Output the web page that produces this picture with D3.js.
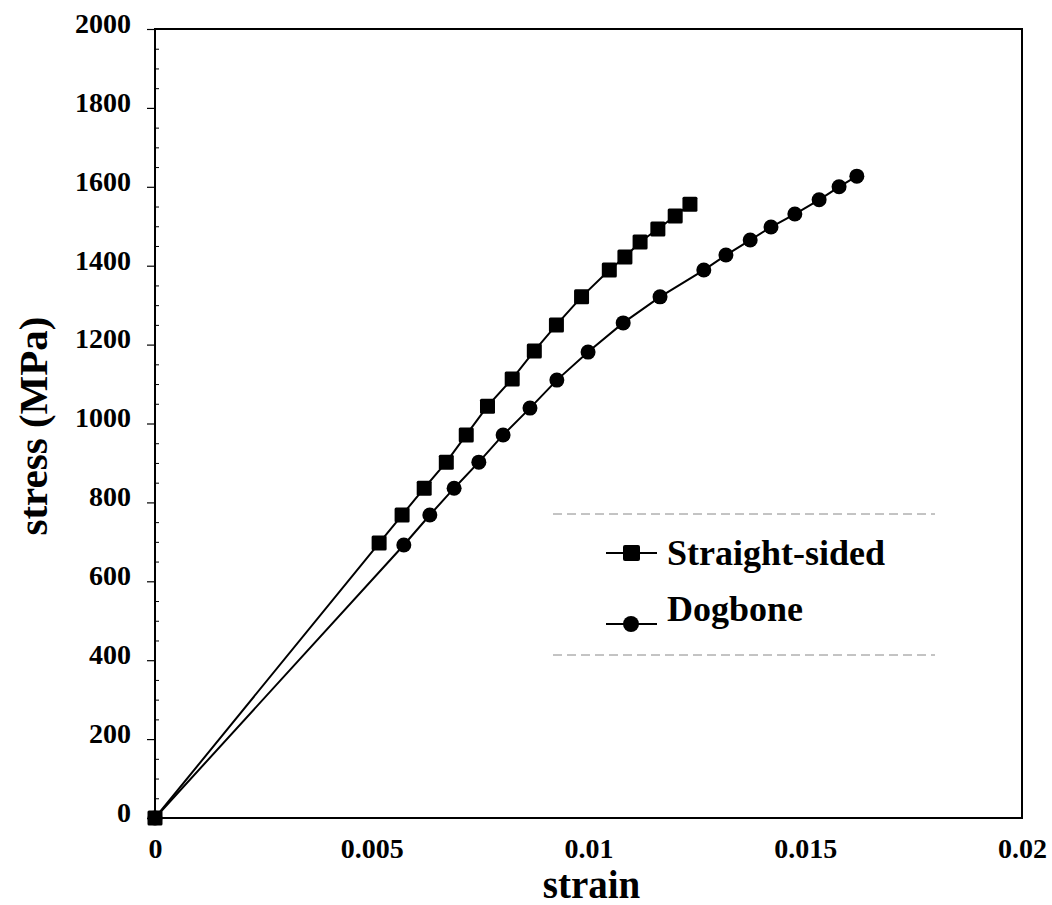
<!DOCTYPE html>
<html>
<head>
<meta charset="utf-8">
<script src="https://cdn.jsdelivr.net/npm/d3@7/dist/d3.min.js"></script>
<style>
  html, body { margin: 0; padding: 0; background: #fff; }
  svg { display: block; }
  text { font-family: "Liberation Serif", "Times New Roman", serif; font-weight: bold; fill: #000; }
</style>
</head>
<body>
<svg id="chart" width="1052" height="905"></svg>
<script>
// ---- data ----
const straightStrain = [0, 0.00517, 0.0057, 0.00621, 0.00672, 0.00718, 0.00767, 0.00824, 0.00875, 0.00926, 0.00984, 0.01048, 0.01084, 0.01119, 0.0116, 0.012, 0.01234];
const straightStress = [0, 697, 768, 836, 902, 971, 1044, 1113, 1184, 1250, 1321, 1389, 1422, 1460, 1493, 1526, 1556];
const dogboneStrain = [0, 0.00574, 0.00634, 0.0069, 0.00747, 0.00803, 0.00865, 0.00927, 0.00999, 0.0108, 0.01165, 0.01266, 0.01317, 0.01373, 0.01421, 0.01476, 0.01532, 0.01578, 0.01619];
const dogboneStress = [0, 692, 768, 836, 902, 971, 1039, 1110, 1181, 1255, 1321, 1389, 1427, 1465, 1498, 1531, 1567, 1600, 1627];
const xTicks = [0, 0.005, 0.01, 0.015, 0.02];
const xTickLabels = ["0", "0.005", "0.01", "0.015", "0.02"];
const yTicks = [0, 200, 400, 600, 800, 1000, 1200, 1400, 1600, 1800, 2000];
const seriesNames = ["Straight-sided", "Dogbone"];

const svg = d3.select("#chart");
const L = 155, R = 1022, T = 29, B = 818;

const x = d3.scaleLinear().domain([0, 0.02]).range([L, R]);
const y = d3.scaleLinear().domain([0, 2000]).range([B, T]);

// frame
svg.append("rect").attr("x", L).attr("y", T).attr("width", R - L).attr("height", B - T)
  .attr("fill", "none").attr("stroke", "#000").attr("stroke-width", 2);

// y minor ticks (inside)
const yMinor = d3.range(0, 2001, 50).filter(v => v % 200 !== 0);
svg.append("g").attr("transform", `translate(${L},0)`)
  .call(d3.axisRight(y).tickValues(yMinor).tickSize(4).tickFormat(""))
  .call(g => g.select(".domain").remove())
  .call(g => g.selectAll("line").attr("stroke", "#000").attr("stroke-width", 1));

// y major ticks + labels
svg.append("g").attr("transform", `translate(${L},0)`)
  .call(d3.axisLeft(y).tickValues(yTicks).tickSize(8).tickPadding(16).tickFormat(d3.format("d")))
  .call(g => g.select(".domain").remove())
  .call(g => g.selectAll("line").attr("stroke", "#000").attr("stroke-width", 1.2))
  .call(g => g.selectAll("text").attr("font-size", 28).attr("dy", "0.12em")
      .style("font-family", '"Liberation Serif", serif').style("font-weight", "bold"));

// x labels
svg.append("g").attr("transform", `translate(0,${B})`)
  .call(d3.axisBottom(x).tickValues(xTicks).tickSize(0).tickPadding(20)
      .tickFormat((d, i) => xTickLabels[i]))
  .call(g => g.select(".domain").remove())
  .call(g => g.selectAll("text").attr("font-size", 28)
      .style("font-family", '"Liberation Serif", serif').style("font-weight", "bold"));

// axis titles
svg.append("text").attr("x", (L + R) / 2 + 3).attr("y", 898).attr("text-anchor", "middle")
  .attr("font-size", 39).text("strain");
svg.append("text").attr("transform", "translate(47,426) rotate(-90)").attr("text-anchor", "middle")
  .attr("font-size", 41).text("stress (MPa)");

// lines
const line = d3.line().x(d => x(d[0])).y(d => y(d[1]));
const dog = dogboneStrain.map((s, i) => [s, dogboneStress[i]]);
const str = straightStrain.map((s, i) => [s, straightStress[i]]);

svg.append("path").datum(dog).attr("d", line).attr("fill", "none").attr("stroke", "#000").attr("stroke-width", 2);
svg.append("path").datum(str).attr("d", line).attr("fill", "none").attr("stroke", "#000").attr("stroke-width", 2);

svg.append("g").selectAll("circle").data(dog).join("circle")
  .attr("cx", d => x(d[0])).attr("cy", d => y(d[1])).attr("r", 7.5).attr("fill", "#000");
const sq = 15;
svg.append("g").selectAll("rect").data(str).join("rect")
  .attr("x", d => x(d[0]) - sq / 2).attr("y", d => y(d[1]) - sq / 2)
  .attr("width", sq).attr("height", sq).attr("rx", 1.5).attr("fill", "#000");

// legend
const lg = svg.append("g");
lg.append("line").attr("x1", 553).attr("x2", 935).attr("y1", 514).attr("y2", 514)
  .attr("stroke", "#888").attr("stroke-width", 1).attr("stroke-dasharray", "9,5");
lg.append("line").attr("x1", 553).attr("x2", 935).attr("y1", 655).attr("y2", 655)
  .attr("stroke", "#888").attr("stroke-width", 1).attr("stroke-dasharray", "9,5");

const legendRows = [
  { name: seriesNames[0], ly: 553, ty: 565, shape: "square" },
  { name: seriesNames[1], ly: 624, ty: 621, shape: "circle" }
];
legendRows.forEach(r => {
  lg.append("line").attr("x1", 606).attr("x2", 657).attr("y1", r.ly).attr("y2", r.ly)
    .attr("stroke", "#000").attr("stroke-width", 2);
  if (r.shape === "square") {
    lg.append("rect").attr("x", 623).attr("y", r.ly - 8).attr("width", 17).attr("height", 16)
      .attr("rx", 2).attr("fill", "#000");
  } else {
    lg.append("circle").attr("cx", 631).attr("cy", r.ly).attr("r", 8).attr("fill", "#000");
  }
  lg.append("text").attr("x", 667).attr("y", r.ty).attr("font-size", 36).text(r.name);
});
</script>
</body>
</html>
